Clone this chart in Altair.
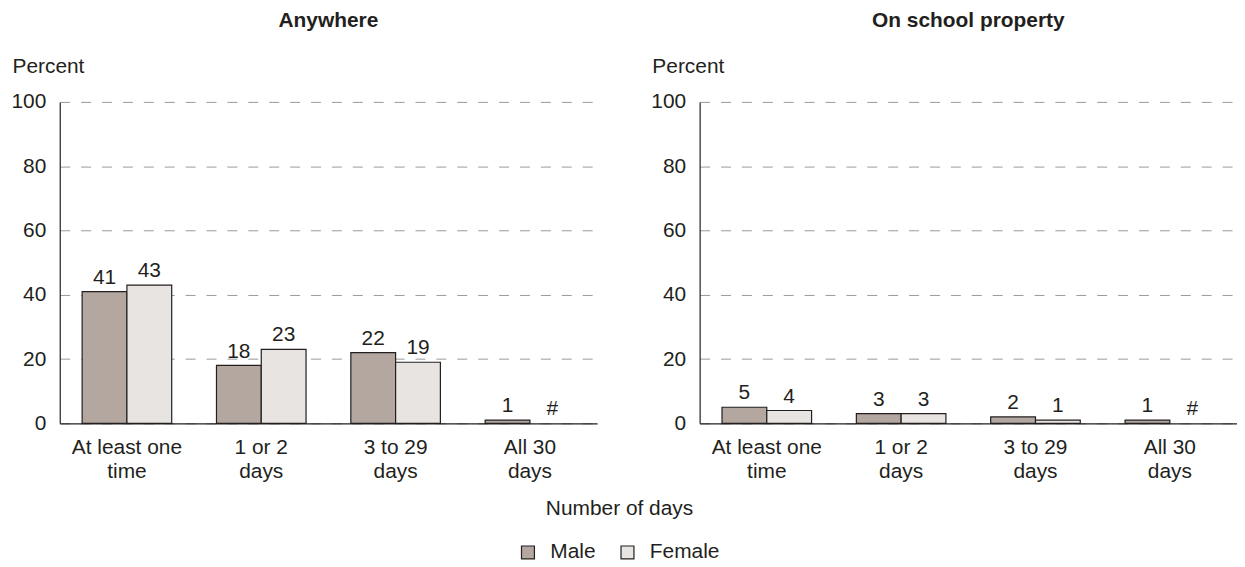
import altair as alt
import pandas as pd

# ---- data ----
CATEGORIES = ["At least one\ntime", "1 or 2\ndays", "3 to 29\ndays", "All 30\ndays"]
SEXES = ["Male", "Female"]
PANELS = ["Anywhere", "On school property"]
X_TITLE = "Number of days"
ANYWHERE_MALE = [41, 18, 22, 1]
ANYWHERE_FEMALE = [43, 23, 19, 0]     # 0 shown as "#" (rounds to zero)
SCHOOL_MALE = [5, 3, 2, 1]
SCHOOL_FEMALE = [4, 3, 1, 0]          # 0 shown as "#"
Y_TICKS = [0, 20, 40, 60, 80, 100]

COLORS = ["#b3a79f", "#e8e4e1"]
INK = "#231f20"
FONT = "Liberation Sans"
FS = 21


def make_frame(male, female):
    rows = []
    for cat, m, f in zip(CATEGORIES, male, female):
        for sex, v in (("Male", m), ("Female", f)):
            rows.append({"category": cat, "sex": sex, "value": v,
                         "label": str(v) if v > 0 else "#"})
    return pd.DataFrame(rows)


def panel(df, title, first):
    x_axis_extra = dict(title=X_TITLE, titleX=562, titleY=86, titleAlign="center",
                        titleBaseline="middle", titleFontSize=FS,
                        titleFontWeight="normal", titleColor=INK) if first else dict(title=None)
    x = alt.X("category:N", sort=CATEGORIES,
              scale=alt.Scale(paddingInner=1 / 3, paddingOuter=1 / 6),
              axis=alt.Axis(labelExpr="split(datum.value, '\\n')", labelAngle=0,
                            ticks=False, domainColor=INK, domainWidth=1.2,
                            labelFontSize=FS, labelColor=INK, labelPadding=13,
                            labelLineHeight=24, labelBaseline="top", **x_axis_extra))
    y = alt.Y("value:Q", scale=alt.Scale(domain=[0, 100], nice=False),
              axis=alt.Axis(values=Y_TICKS, title="Percent", titleAngle=0,
                            titleAlign="left", titleX=-48, titleY=-30,
                            titleBaseline="alphabetic", titleFontWeight="normal",
                            titleFontSize=FS, titleColor=INK, grid=True,
                            gridDash=[10, 11], gridColor="#999999", gridWidth=1,
                            ticks=False, domainColor=INK, domainWidth=1.2,
                            labelPadding=14, labelFontSize=FS, labelColor=INK))
    xo = alt.XOffset("sex:N", sort=SEXES, scale=alt.Scale(paddingInner=0, paddingOuter=0))
    legend = alt.Legend(title=None, orient="none", direction="horizontal",
                        legendX=460, legendY=442, symbolType="square",
                        symbolSize=169, symbolStrokeColor=INK,
                        symbolStrokeWidth=1.2, labelFontSize=FS,
                        labelColor=INK, labelOffset=12,
                        columnPadding=21, symbolOpacity=1) if first else None
    color = alt.Color("sex:N", sort=SEXES,
                      scale=alt.Scale(domain=SEXES, range=COLORS), legend=legend)
    bars = alt.Chart(df).transform_filter("datum.value > 0").mark_bar(
        stroke=INK, strokeWidth=1.2, opacity=1).encode(x=x, xOffset=xo, y=y, color=color)
    text = alt.Chart(df).mark_text(baseline="bottom", dy=-4, fontSize=FS, color=INK,
                                   font=FONT).encode(
        x=x, xOffset=xo, y=y, text="label:N")
    return alt.layer(bars, text).properties(
        width=540, height=323,
        title=alt.TitleParams(title, fontSize=FS, fontWeight="bold", color=INK,
                              anchor="middle", frame="group", offset=24))


left = panel(make_frame(ANYWHERE_MALE, ANYWHERE_FEMALE), PANELS[0], True)
right = panel(make_frame(SCHOOL_MALE, SCHOOL_FEMALE), PANELS[1], False)

chart = alt.hconcat(left, right, spacing=103, bounds="flush").resolve_legend(
    color="independent").properties(
    padding={"left": 2, "top": 1, "right": 0, "bottom": 0},
).configure(font=FONT, view=alt.ViewConfig(stroke=None))

chart.save("out.html", embed_options={"renderer": "svg", "actions": False})
